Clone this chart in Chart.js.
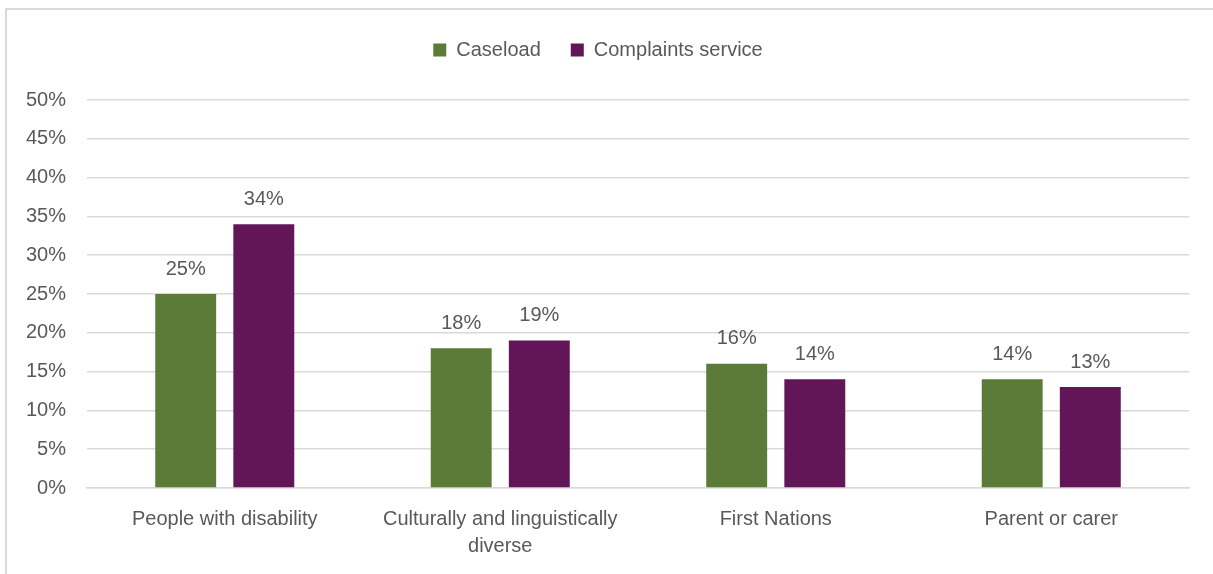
<!DOCTYPE html>
<html>
<head>
<meta charset="utf-8">
<script src="https://cdn.jsdelivr.net/npm/chart.js@4/dist/chart.umd.min.js"></script>
<style>
    body { margin: 0; background: #fff; }
    #wrap {
        position: absolute;
        left: 5px;
        top: 8px;
        width: 1208px;
        height: 566px;
        border-left: 2px solid #d9d9d9;
        border-top: 2px solid #d9d9d9;
    }
</style>
</head>
<body>
<div id="wrap"><canvas id="chart"></canvas></div>
<script>
// Chart data
const categories = [
    'People with disability',
    ['Culturally and linguistically', 'diverse'],
    'First Nations',
    'Parent or carer'
];
const caseload = [25, 18, 16, 14];
const complaintsService = [34, 19, 14, 13];
const yTicks = [0, 5, 10, 15, 20, 25, 30, 35, 40, 45, 50];

const textColor = '#595959';
const fontFamily = '"Liberation Sans", Arial, sans-serif';

// Value labels on top of each bar
const barLabels = {
    id: 'barLabels',
    afterDatasetsDraw(chart) {
        const ctx = chart.ctx;
        ctx.save();
        ctx.fillStyle = textColor;
        ctx.font = '20px ' + fontFamily;
        ctx.textAlign = 'center';
        ctx.textBaseline = 'bottom';
        chart.data.datasets.forEach((ds, i) => {
            chart.getDatasetMeta(i).data.forEach((bar, j) => {
                ctx.fillText(ds.data[j] + '%', bar.x, bar.y - 15);
            });
        });
        ctx.restore();
    }
};

// Fix the legend block height so the plot starts where it should
const legendHeight = {
    id: 'legendHeight',
    beforeInit(chart) {
        const origFit = chart.legend.fit;
        chart.legend.fit = function () {
            origFit.call(this);
            this.height = 90;
        };
    }
};

const ctx = document.getElementById('chart').getContext('2d');
new Chart(ctx, {
    type: 'bar',
    data: {
        labels: categories,
        datasets: [
            {
                label: 'Caseload',
                data: caseload,
                backgroundColor: '#5d7b38'
            },
            {
                label: 'Complaints service',
                data: complaintsService,
                backgroundColor: '#621658'
            }
        ]
    },
    options: {
        responsive: true,
        maintainAspectRatio: false,
        animation: false,
        categoryPercentage: 0.567,
        barPercentage: 0.78,
        layout: {
            padding: { top: 0, right: 26, left: 0, bottom: 0 }
        },
        plugins: {
            legend: {
                position: 'top',
                labels: {
                    boxWidth: 13,
                    boxHeight: 13,
                    padding: 30,
                    color: textColor,
                    font: { family: fontFamily, size: 20 }
                }
            },
            tooltip: { enabled: false }
        },
        scales: {
            x: {
                grid: { display: false, drawTicks: false },
                border: { display: true, color: '#d9d9d9', width: 1.5 },
                ticks: {
                    color: textColor,
                    padding: 18,
                    maxRotation: 0,
                    font: { family: fontFamily, size: 20, lineHeight: 1.35 }
                },
                afterFit(scale) { scale.height = 88; }
            },
            y: {
                min: 0,
                max: 50,
                afterBuildTicks(scale) {
                    scale.ticks = yTicks.map(v => ({ value: v }));
                },
                grid: { color: '#d9d9d9', lineWidth: 1.5, drawTicks: false },
                border: { display: false },
                ticks: {
                    color: textColor,
                    padding: 21,
                    font: { family: fontFamily, size: 20 },
                    callback: v => v + '%'
                },
                afterFit(scale) { scale.width = 80; }
            }
        }
    },
    plugins: [barLabels, legendHeight]
});
</script>
</body>
</html>
